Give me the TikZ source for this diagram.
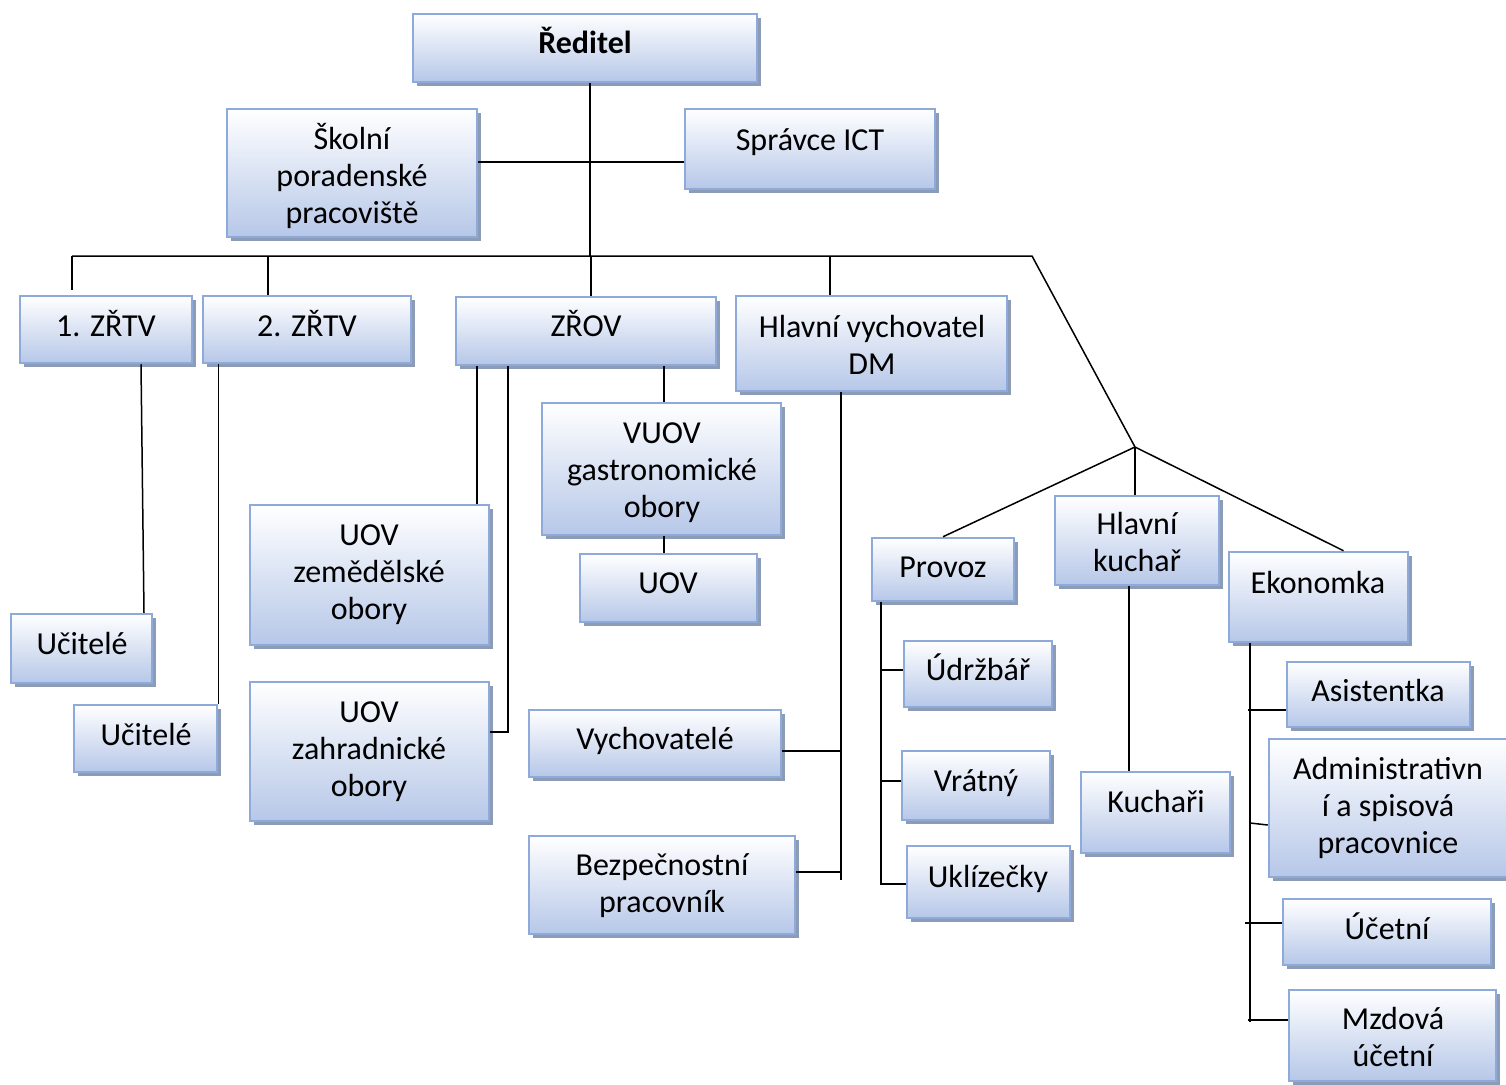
\documentclass[tikz,border=0pt]{standalone}
\usepackage{fontspec}
\setmainfont{Carlito}
\usetikzlibrary{shadows}
\definecolor{bordc}{RGB}{142,170,219}
\definecolor{botc}{RGB}{182,199,232}
\definecolor{shadc}{RGB}{140,155,182}
\tikzset{
  obox/.style={draw=bordc, line width=2.5pt, top color=white, bottom color=botc,
    shading angle=0, rectangle, inner sep=0pt,
    drop shadow={shadow xshift=3.5pt, shadow yshift=-3.5pt, fill=shadc, opacity=1}},
  otxt/.style={anchor=base, align=center, inner sep=0pt, font=\fontsize{32}{37}\selectfont},
  conn/.style={draw=black, line width=1.5pt}
}
% name, left, top, right, bottom
\newcommand\obox[5]{\node[obox, minimum width={(#4-#2)*1pt}, minimum height={(#5-#3)*1pt}] (#1) at ({(#2+#4)/2},{(#3+#5)/2}) {};}
% name, x, last-line y, text
\newcommand\otext[4]{\node[otxt] (#1) at (#2,#3+10) {#4};}
\begin{document}
\begin{tikzpicture}[x=1pt,y=-1pt]
\useasboundingbox (0,0) rectangle (1506,1084);
% boxes
\obox{reditel}{413}{14}{757}{82}
\obox{skolni}{227}{109}{477}{237}
\obox{spravce}{685}{109}{935}{189}
\obox{ztv1}{20}{296}{192}{363}
\obox{ztv2}{203}{296}{411}{363}
\obox{zrov}{456}{297}{716}{365}
\obox{hv}{736}{296}{1007}{391}
\obox{vuov}{542}{403}{781}{535}
\obox{uov}{580}{554}{757}{622}
\obox{uovzem}{250}{505}{489}{645}
\obox{uovzah}{250}{682}{489}{821}
\obox{uc1}{11}{614}{152}{683}
\obox{uc2}{74}{705}{217}{772}
\obox{vych}{529}{710}{781}{777}
\obox{bezp}{529}{836}{795}{934}
\obox{provoz}{872}{538}{1014}{601}
\obox{hkuchar}{1055}{496}{1219}{585}
\obox{ekon}{1229}{552}{1408}{642}
\obox{udrz}{904}{641}{1052}{707}
\obox{vrat}{902}{751}{1050}{820}
\obox{ukl}{907}{846}{1070}{918}
\obox{kuchari}{1081}{772}{1230}{853}
\obox{asist}{1287}{662}{1470}{727}
\obox{admin}{1269}{739}{1509}{877}
\obox{ucet}{1283}{899}{1491}{965}
\obox{mzd}{1289}{990}{1496}{1081}
% texts
\otext{treditel}{585}{43}{\textbf{Ředitel}}
\otext{tskolni}{352}{213}{Školní\\poradenské\\pracoviště}
\otext{tspravce}{810}{140}{Správce ICT}
\otext{tztv1}{106}{326}{1. ZŘTV}
\otext{tztv2}{307}{326}{2. ZŘTV}
\otext{tzrov}{586}{326}{ZŘOV}
\otext{thv}{872}{364}{Hlavní vychovatel\\DM}
\otext{tvuov}{662}{507}{VUOV\\gastronomické\\obory}
\otext{tuov}{668}{583}{UOV}
\otext{tuovzem}{369}{609}{UOV\\zemědělské\\obory}
\otext{tuovzah}{369}{786}{UOV\\zahradnické\\obory}
\otext{tuc1}{82}{644}{Učitelé}
\otext{tuc2}{146}{735}{Učitelé}
\otext{tvych}{655}{739}{Vychovatelé}
\otext{tbezp}{662}{902}{Bezpečnostní\\pracovník}
\otext{tprovoz}{943}{567}{Provoz}
\otext{thkuchar}{1137}{561}{Hlavní\\kuchař}
\otext{tekon}{1318}{583}{Ekonomka}
\otext{tudrz}{978}{670}{Údržbář}
\otext{tvrat}{976}{781}{Vrátný}
\otext{tukl}{988}{877}{Uklízečky}
\otext{tkuchari}{1156}{802}{Kuchaři}
\otext{tasist}{1378}{691}{Asistentka}
\otext{tadmin}{1388}{843}{Administrativn\\í a spisová\\pracovnice}
\otext{tucet}{1387}{929}{Účetní}
\otext{tmzd}{1393}{1056}{Mzdová\\účetní}
% helper coordinates
\coordinate (busL) at (72,256);
\coordinate (busM) at (590,256);
\coordinate (busR) at (1032,256);
\coordinate (b2) at (268,256);
\coordinate (b3) at (591,256);
\coordinate (b4) at (830,256);
\coordinate (split) at (1135,447);
\coordinate (sp) at (590,162);
\coordinate (zx) at (477,400);
\coordinate (zy) at (508,732);
\coordinate (zv) at (664,400);
\coordinate (hx) at (841,880);
\coordinate (px) at (881,885);
\coordinate (kx) at (1129,600);
\coordinate (ex) at (1250,1022);
% connectors
\draw[conn] (reditel.south -| busM) -- (busM);
\draw[conn] (skolni.east |- sp) -- (spravce.west |- sp);
\draw[conn] (busL) -- (busR) -- (split);
\draw[conn] (busL) -- ([yshift=5pt]ztv1.north -| busL);
\draw[conn] (b2) -- (ztv2.north -| b2);
\draw[conn] (b3) -- (zrov.north -| b3);
\draw[conn] (b4) -- (hv.north -| b4);
\draw[conn] (split) -- (provoz.north);
\draw[conn] (split) -- (hkuchar.north -| split);
\draw[conn] (split) -- ([xshift=25pt]ekon.north);
\draw[conn] ([xshift=35pt]ztv1.south) -- ([xshift=62.5pt]uc1.north);
\draw[conn] (uc2.north east |- ztv2.south) -- (uc2.north east);
\draw[conn] (zrov.south -| zx) -- (uovzem.north -| zx);
\draw[conn] (zrov.south -| zy) -- (zy) -- (uovzah.east |- zy);
\draw[conn] (zrov.south -| zv) -- (vuov.north -| zv);
\draw[conn] (vuov.south -| zv) -- (uov.north -| zv);
\draw[conn] (hv.south -| hx) -- (hx);
\draw[conn] ([yshift=-7.5pt]vych.east) -- ([yshift=-7.5pt]vych.east -| hx);
\draw[conn] ([yshift=13pt]bezp.east) -- ([yshift=13pt]bezp.east -| hx);
\draw[conn] (provoz.south -| px) -- (px);
\draw[conn] ([yshift=4pt]udrz.west) -- ([yshift=4pt]udrz.west -| px);
\draw[conn] ([yshift=4.5pt]vrat.west) -- ([yshift=4.5pt]vrat.west -| px);
\draw[conn] ([yshift=-2pt]ukl.west) -- ([yshift=-2pt]ukl.west -| px);
\draw[conn] (hkuchar.south -| kx) -- (kuchari.north -| kx);
\draw[conn] (ekon.south -| ex) -- (ex);
\draw[conn] ([yshift=-15.5pt]asist.west) -- ([yshift=-15.5pt,xshift=-2pt]asist.west -| ex);
\draw[conn] ([yshift=-17pt]admin.west) -- ([yshift=-15pt]admin.west -| ex);
\draw[conn] ([yshift=9pt]ucet.west) -- ([yshift=9pt,xshift=-5pt]ucet.west -| ex);
\draw[conn] ([yshift=15.5pt]mzd.west) -- ([yshift=15.5pt,xshift=-2pt]mzd.west -| ex);
\end{tikzpicture}
\end{document}
